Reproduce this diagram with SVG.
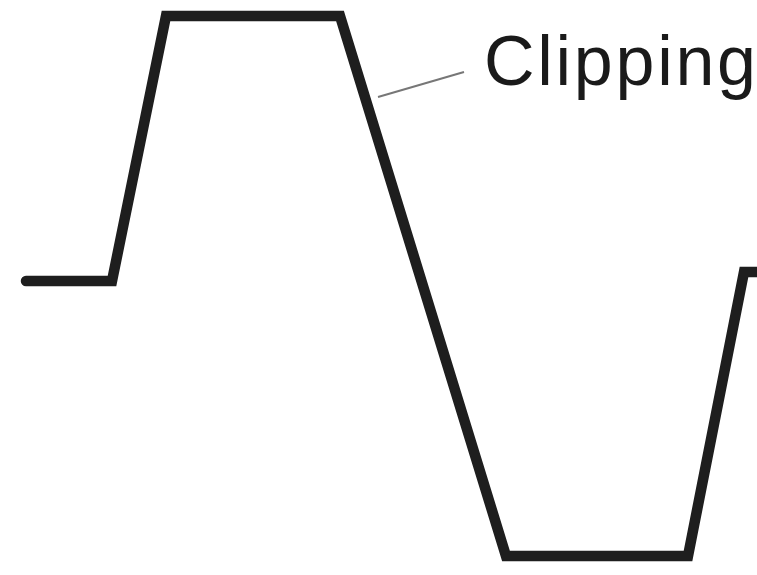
<svg xmlns="http://www.w3.org/2000/svg" width="757" height="575" viewBox="0 0 757 575">
<style>
.wave{fill:none;stroke:#1e1e1e;stroke-width:10.5;stroke-linejoin:miter;stroke-linecap:round}
.leader{stroke:#777;stroke-width:2;fill:none}
.label{font-family:"Liberation Sans","DejaVu Sans",sans-serif;font-size:70px;fill:#1a1a1a}
</style>
<rect width="757" height="575" fill="#fff"/>
<g id="connectors">
<path class="wave" d="M26 281 L112 281 L166 16 L340 16 L506 556 L688 556 L744 272 L762 272"/>
<line class="leader" x1="378" y1="97" x2="464" y2="72"/>
</g>
<g id="clipping-label">
<text class="label" x="484" y="85" textLength="272" lengthAdjust="spacing">Clipping</text>
</g>
</svg>
